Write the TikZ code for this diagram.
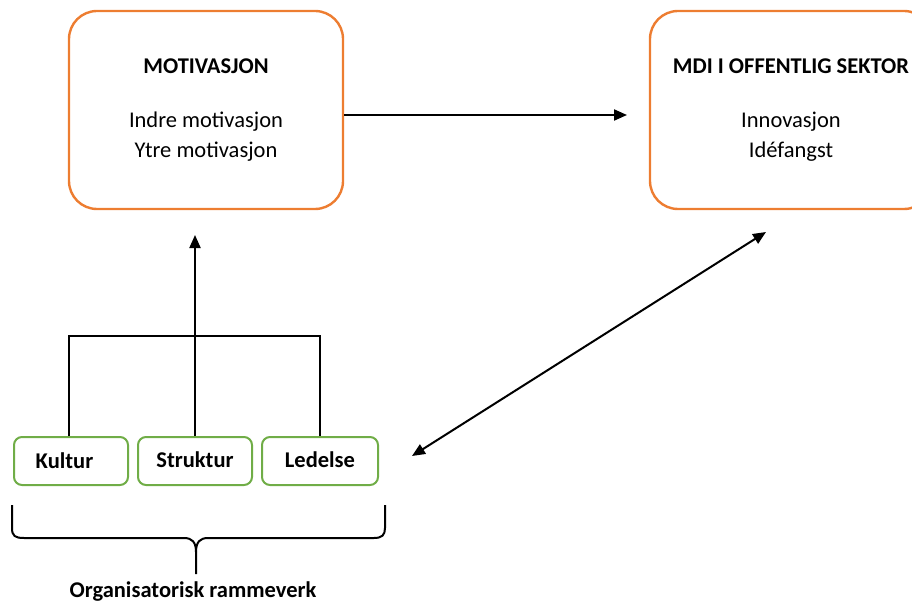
\documentclass[tikz,border=0pt]{standalone}
\usepackage{fontspec}
\setmainfont{Carlito}
\usetikzlibrary{arrows.meta}
\definecolor{boxorange}{RGB}{237,125,49}
\definecolor{boxgreen}{RGB}{112,173,71}
\begin{document}
\begin{tikzpicture}[x=1pt,y=-1pt,
  bigbox/.style={draw=boxorange,line width=2.4pt,rounded corners=28pt,
    align=center,inner sep=0pt,font=\fontsize{22.5}{30}\selectfont},
  factor/.style={draw=boxgreen,line width=2pt,rounded corners=8pt,
    minimum height=48pt,inner sep=0pt,font=\fontsize{22.5}{27}\selectfont\bfseries},
  link/.style={line width=2pt,black},
  arr/.style={link,-{Triangle[length=13pt,width=11pt]}},
  darr/.style={link,{Triangle[length=13pt,width=11pt]}-{Triangle[length=13pt,width=11pt]}}]
\useasboundingbox (0,0) rectangle (912,604);
\clip (0,0) rectangle (912,604);

% upper boxes
\node[bigbox,minimum width=274pt,minimum height=198pt] (mot) at (206,110)
  {\textbf{MOTIVASJON}\\[24pt]Indre motivasjon\\Ytre motivasjon};
\node[bigbox,minimum width=282pt,minimum height=198pt] (mdi) at (791,110)
  {\textbf{MDI I OFFENTLIG SEKTOR}\\[24pt]Innovasjon\\Idéfangst};

% organisational factors
\node[factor,minimum width=114pt] (kul) at (71,461) {Kultur\hspace*{13pt}};
\node[factor,minimum width=114pt] (str) at (195,461) {\raisebox{2pt}{Struktur}};
\node[factor,minimum width=116pt] (led) at (320,461) {\raisebox{2pt}{Ledelse}};

% free arrow ends and junction
\coordinate (join) at (195,336);
\coordinate (motin) at (195,235);
\coordinate (mdiin) at (627,115);
\coordinate (mdiend) at (766,232);
\coordinate (ledend) at (412,456);

% connectors
\draw[link] (kul.north -| 69,0) |- (join) -| (led.north);
\draw[arr] (str.north) -- (motin);
\draw[arr] (mot.east |- mdiin) -- (mdiin);
\draw[darr] (ledend) -- (mdiend);

% brace under the factors
\draw[line width=2pt] (12,505) -- (12,528) .. controls (12,536) and (15,538) .. (24,538)
  -- (184,538) .. controls (192,538) and (196,542) .. (196,552) -- (196,574);
\draw[line width=2pt] (196,552) .. controls (196,542) and (200,538) .. (208,538)
  -- (374,538) .. controls (382,538) and (385,535) .. (385,528) -- (385,505);
\node[font=\fontsize{22.5}{27}\selectfont\bfseries] (org) at (193,592) {Organisatorisk rammeverk};
\end{tikzpicture}
\end{document}
